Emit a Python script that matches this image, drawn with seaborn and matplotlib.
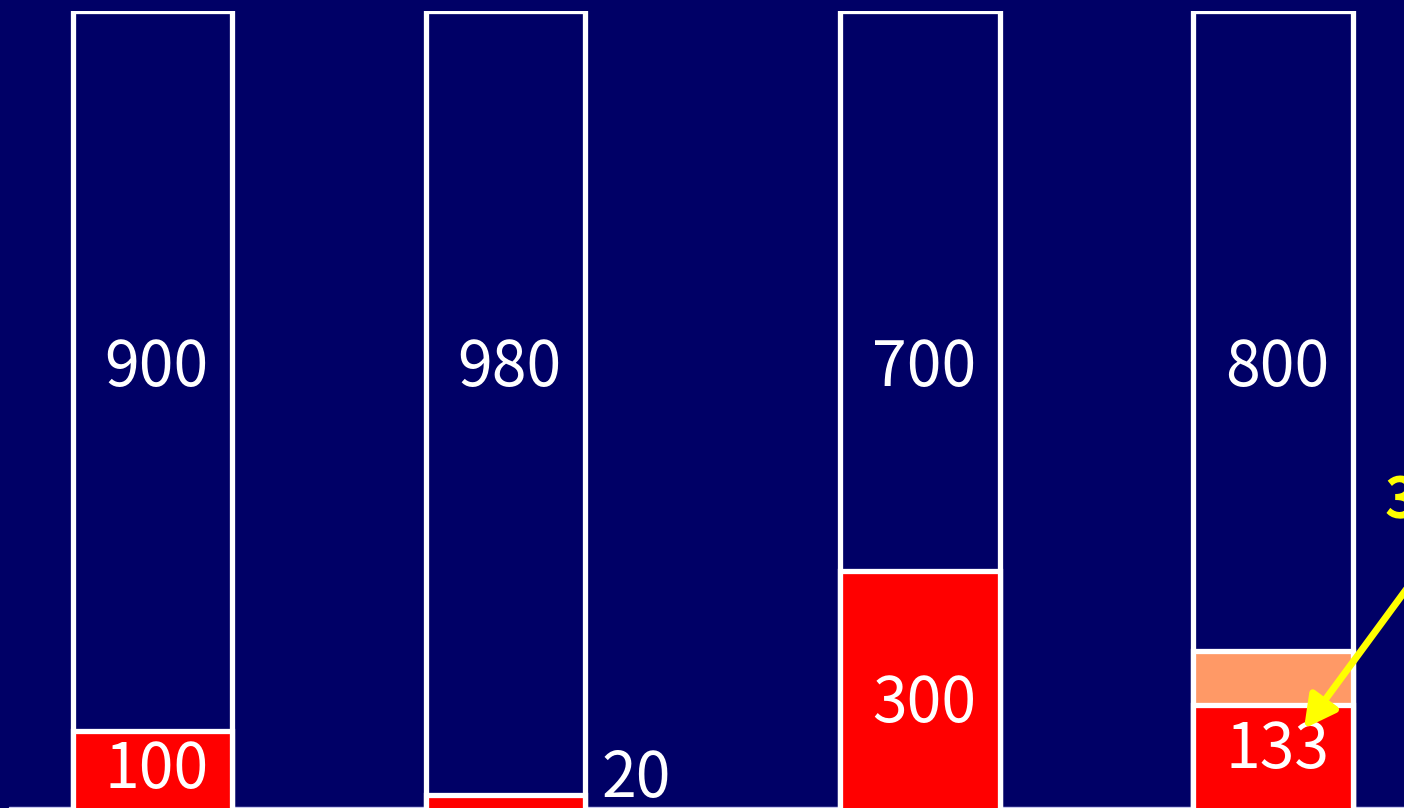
import matplotlib
matplotlib.use("Agg")
import matplotlib.pyplot as plt
import seaborn as sns
import pandas as pd
import numpy as np

# ---- data ----
positions = [0.0, 1.0, 2.175, 3.175]
red_vals = [100, 20, 300, 133]
salmon_vals = [0, 0, 0, 67]
navy_vals = [900, 980, 700, 800]
navy_labels = ["900", "980", "700", "800"]
red_labels = ["100", "20", "300", "133"]
callout_text = "33"

BG = "#000066"
RED = "#ff0000"
SALMON = "#ff9966"
NAVY = "#000066"

sns.set_theme(style="white")
plt.rcParams["font.family"] = ["Noto Sans CJK JP", "DejaVu Sans"]

fig = plt.figure(figsize=(14.04, 8.08), dpi=100, facecolor=BG)
ax = fig.add_axes([0, -3 / 808, 1, 800 / 808])
ax.set_facecolor(BG)

df = pd.DataFrame({
    "x": positions,
    "total": np.array(red_vals) + np.array(salmon_vals) + np.array(navy_vals),
    "lower2": np.array(red_vals) + np.array(salmon_vals),
    "lower1": np.array(red_vals),
})

lw = 3.8
common = dict(x="x", native_scale=True, width=0.453, errorbar=None,
              edgecolor="white", linewidth=lw, ax=ax, saturation=1)
sns.barplot(data=df, y="total", color=NAVY, **common)
sns.barplot(data=df[df["lower2"] > df["lower1"]], y="lower2", color=SALMON, **common)
sns.barplot(data=df, y="lower1", color=RED, **common)

ax.set_xlim(-152.5 / 353, (1404 - 152.5) / 353)
ax.set_ylim(0, 1000)
ax.axis("off")

# thin baseline
ax.axhline(5, xmin=9 / 1404, xmax=1, color="#c8c8ee", lw=1.0, zorder=0.5)

fs = 45
for x, lab in zip(positions, navy_labels):
    ax.text(x + 0.012, 563, lab, color="white", fontsize=fs, ha="center",
            va="center_baseline")

red_label_pos = [(positions[0] + 0.012, 60), (positions[1] + 0.371, 49),
                 (positions[2] + 0.012, 142), (positions[3] + 0.012, 85)]
for (x, y), lab in zip(red_label_pos, red_labels):
    ax.text(x, y, lab, color="white", fontsize=fs, ha="center",
            va="center_baseline", zorder=5)

# yellow callout (cut off at right edge, as in the reference)
ax.text(3.49, 394, callout_text, color="yellow", fontsize=40,
        fontweight="bold", ha="left", va="center_baseline")
ax.annotate("", xy=(3.262, 103), xytext=(3.66, 342),
            arrowprops=dict(arrowstyle="-|>,head_length=1.6,head_width=0.85",
                            color="yellow", lw=5, shrinkA=0, shrinkB=0),
            annotation_clip=False, zorder=6)

fig.savefig("out.png", dpi=100, facecolor=BG)
